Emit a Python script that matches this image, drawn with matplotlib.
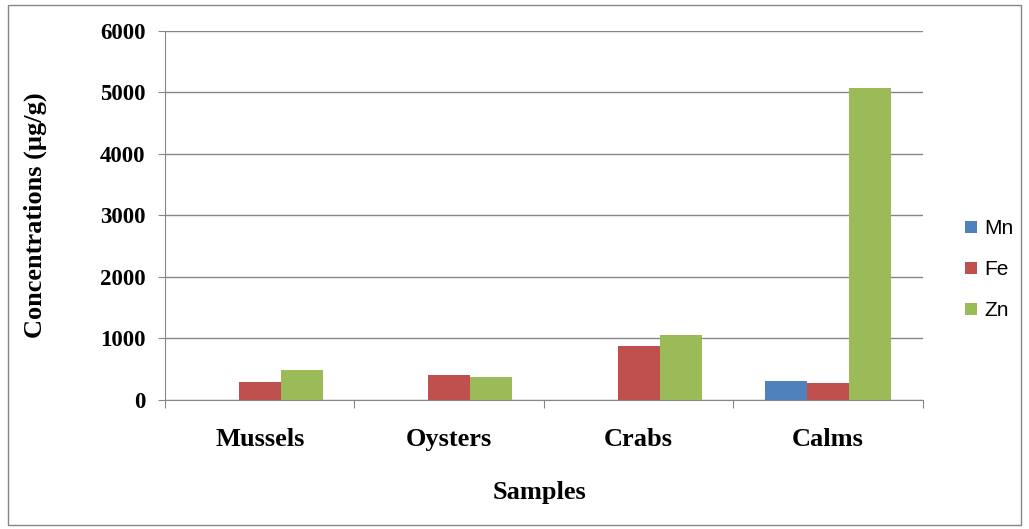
import matplotlib
matplotlib.use("Agg")
import matplotlib.pyplot as plt
from matplotlib.patches import Rectangle
import numpy as np

# metal concentrations per sample type (ug/g)
samples = ["Mussels", "Oysters", "Crabs", "Calms"]
mn = [0, 0, 0, 310]
fe = [290, 400, 875, 275]
zn = [490, 375, 1055, 5070]
metals = ["Mn", "Fe", "Zn"]
colors = ["#4F81BD", "#C0504D", "#9BBB59"]

serif = "Liberation Serif"

fig = plt.figure(figsize=(10.29, 5.29), dpi=100)
ax = fig.add_axes([0.1603, 0.2439, 0.7366, 0.6975])

x = np.arange(len(samples))
w = 0.222
for i, (vals, name, c) in enumerate(zip([mn, fe, zn], metals, colors)):
    ax.bar(x + (i - 1) * w, vals, width=w, color=c, label=name, zorder=3)

ax.set_xlim(-0.5, len(samples) - 0.5)
ax.set_ylim(0, 6000)
ax.set_yticks(np.arange(0, 6001, 1000))
ax.yaxis.grid(True, color="#868686", linewidth=1.0, zorder=0)

for s in ["top", "right"]:
    ax.spines[s].set_visible(False)
for s in ["left", "bottom"]:
    ax.spines[s].set_color("#868686")

# ticks sit on the category boundaries, names in the middle
ax.set_xticks(np.arange(-0.5, len(samples)))
ax.set_xticklabels([])
ax.set_xticks(x, minor=True)
ax.set_xticklabels(samples, minor=True, fontfamily=serif,
                   fontweight="bold", fontsize=19)
ax.tick_params(axis="x", which="minor", length=0, pad=20)
ax.tick_params(axis="x", which="major", length=6, color="#868686")
ax.tick_params(axis="y", length=5, color="#868686", pad=9)
for lab in ax.get_yticklabels():
    lab.set_fontfamily(serif)
    lab.set_fontweight("bold")
    lab.set_fontsize(16.5)

fig.text(35 / 1029, 1 - 215 / 529, "Concentrations (µg/g)", rotation=90,
         ha="center", va="center", fontfamily=serif, fontweight="bold",
         fontsize=19)
fig.text(540 / 1029, 1 - 493 / 529, "Samples", ha="center", va="center",
         fontfamily=serif, fontweight="bold", fontsize=19)

fig.legend(loc="center left", bbox_to_anchor=(0.92, 0.49), frameon=False,
           prop={"family": "Liberation Sans", "size": 15},
           handlelength=0.55, handleheight=0.55, handletextpad=0.35,
           labelspacing=1.05)

fig.add_artist(Rectangle((0.008, 0.008), 0.984, 0.982, transform=fig.transFigure,
                         fill=False, edgecolor="#868686", linewidth=1.0))

fig.savefig("out.png", dpi=100)
